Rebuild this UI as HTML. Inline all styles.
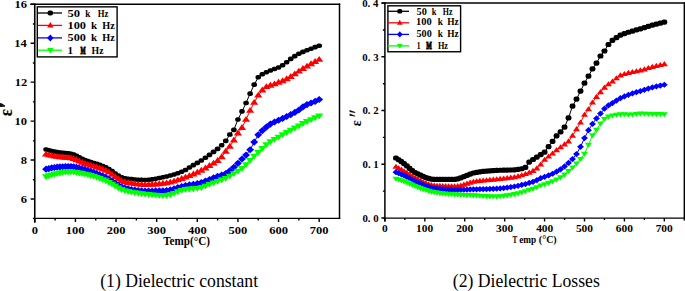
<!DOCTYPE html>
<html><head><meta charset="utf-8"><style>
html,body{margin:0;padding:0;background:#fff;width:685px;height:291px;overflow:hidden}
svg{display:block}
text{font-family:"Liberation Serif",serif;fill:#000}
</style></head><body>
<svg width="685" height="291" viewBox="0 0 685 291">
<g fill="#000" stroke="none"><polyline points="46.07,149.43 48.83,150.23 51.59,150.96 54.35,151.60 57.12,152.15 59.88,152.58 62.64,152.89 65.40,153.11 68.17,153.36 70.93,153.78 73.69,154.65 76.46,155.90 79.27,157.35 82.09,158.81 84.95,160.08 87.84,161.12 90.76,162.07 93.70,162.98 96.68,163.89 99.68,164.86 102.72,165.95 105.78,167.22 108.88,168.98 112.01,171.14 115.17,173.43 118.36,175.59 121.58,177.32 124.84,178.31 128.13,178.76 131.45,179.15 134.81,179.48 138.20,179.73 141.63,179.89 145.08,179.95 148.58,179.80 152.11,179.38 155.67,178.78 159.27,178.05 162.91,177.25 166.59,176.45 170.30,175.54 174.05,174.47 177.83,173.22 181.66,171.75 185.52,170.04 189.42,167.47 193.37,165.14 197.35,162.89 201.37,160.43 205.43,157.70 209.49,154.83 213.56,151.92 217.62,148.84 221.68,145.29 225.75,140.86 229.81,134.57 233.87,129.88 237.93,119.54 242.00,111.40 246.06,102.96 250.12,93.59 254.18,84.59 258.25,77.29 262.31,74.20 266.37,72.23 270.43,70.51 274.50,69.02 278.56,67.52 282.62,65.29 286.69,62.19 290.75,58.87 294.81,56.16 298.87,53.79 302.94,51.85 307.00,50.24 311.06,48.71 315.12,47.17 319.19,45.69" fill="none" stroke="#000" stroke-width="1"/>
<rect x="43.31" y="147.13" width="5.52" height="4.60" rx="2.07" ry="1.72"/>
<rect x="46.07" y="147.93" width="5.52" height="4.60" rx="2.07" ry="1.72"/>
<rect x="48.83" y="148.66" width="5.52" height="4.60" rx="2.07" ry="1.72"/>
<rect x="51.59" y="149.30" width="5.52" height="4.60" rx="2.07" ry="1.72"/>
<rect x="54.36" y="149.85" width="5.52" height="4.60" rx="2.07" ry="1.72"/>
<rect x="57.12" y="150.28" width="5.52" height="4.60" rx="2.07" ry="1.72"/>
<rect x="59.88" y="150.59" width="5.52" height="4.60" rx="2.07" ry="1.72"/>
<rect x="62.64" y="150.81" width="5.52" height="4.60" rx="2.07" ry="1.72"/>
<rect x="65.41" y="151.06" width="5.52" height="4.60" rx="2.07" ry="1.72"/>
<rect x="68.17" y="151.48" width="5.52" height="4.60" rx="2.07" ry="1.72"/>
<rect x="70.93" y="152.35" width="5.52" height="4.60" rx="2.07" ry="1.72"/>
<rect x="73.70" y="153.60" width="5.52" height="4.60" rx="2.07" ry="1.72"/>
<rect x="76.51" y="155.05" width="5.52" height="4.60" rx="2.07" ry="1.72"/>
<rect x="79.33" y="156.51" width="5.52" height="4.60" rx="2.07" ry="1.72"/>
<rect x="82.19" y="157.78" width="5.52" height="4.60" rx="2.07" ry="1.72"/>
<rect x="85.08" y="158.82" width="5.52" height="4.60" rx="2.07" ry="1.72"/>
<rect x="88.00" y="159.77" width="5.52" height="4.60" rx="2.07" ry="1.72"/>
<rect x="90.94" y="160.68" width="5.52" height="4.60" rx="2.07" ry="1.72"/>
<rect x="93.92" y="161.59" width="5.52" height="4.60" rx="2.07" ry="1.72"/>
<rect x="96.92" y="162.56" width="5.52" height="4.60" rx="2.07" ry="1.72"/>
<rect x="99.96" y="163.65" width="5.52" height="4.60" rx="2.07" ry="1.72"/>
<rect x="103.02" y="164.92" width="5.52" height="4.60" rx="2.07" ry="1.72"/>
<rect x="106.12" y="166.68" width="5.52" height="4.60" rx="2.07" ry="1.72"/>
<rect x="109.25" y="168.84" width="5.52" height="4.60" rx="2.07" ry="1.72"/>
<rect x="112.41" y="171.13" width="5.52" height="4.60" rx="2.07" ry="1.72"/>
<rect x="115.60" y="173.29" width="5.52" height="4.60" rx="2.07" ry="1.72"/>
<rect x="118.82" y="175.02" width="5.52" height="4.60" rx="2.07" ry="1.72"/>
<rect x="122.08" y="176.01" width="5.52" height="4.60" rx="2.07" ry="1.72"/>
<rect x="125.37" y="176.46" width="5.52" height="4.60" rx="2.07" ry="1.72"/>
<rect x="128.69" y="176.85" width="5.52" height="4.60" rx="2.07" ry="1.72"/>
<rect x="132.05" y="177.18" width="5.52" height="4.60" rx="2.07" ry="1.72"/>
<rect x="135.44" y="177.43" width="5.52" height="4.60" rx="2.07" ry="1.72"/>
<rect x="138.87" y="177.59" width="5.52" height="4.60" rx="2.07" ry="1.72"/>
<rect x="142.32" y="177.65" width="5.52" height="4.60" rx="2.07" ry="1.72"/>
<rect x="145.82" y="177.50" width="5.52" height="4.60" rx="2.07" ry="1.72"/>
<rect x="149.35" y="177.08" width="5.52" height="4.60" rx="2.07" ry="1.72"/>
<rect x="152.91" y="176.48" width="5.52" height="4.60" rx="2.07" ry="1.72"/>
<rect x="156.51" y="175.75" width="5.52" height="4.60" rx="2.07" ry="1.72"/>
<rect x="160.15" y="174.95" width="5.52" height="4.60" rx="2.07" ry="1.72"/>
<rect x="163.83" y="174.15" width="5.52" height="4.60" rx="2.07" ry="1.72"/>
<rect x="167.54" y="173.24" width="5.52" height="4.60" rx="2.07" ry="1.72"/>
<rect x="171.29" y="172.17" width="5.52" height="4.60" rx="2.07" ry="1.72"/>
<rect x="175.07" y="170.92" width="5.52" height="4.60" rx="2.07" ry="1.72"/>
<rect x="178.90" y="169.45" width="5.52" height="4.60" rx="2.07" ry="1.72"/>
<rect x="182.76" y="167.74" width="5.52" height="4.60" rx="2.07" ry="1.72"/>
<rect x="186.66" y="165.17" width="5.52" height="4.60" rx="2.07" ry="1.72"/>
<rect x="190.61" y="162.84" width="5.52" height="4.60" rx="2.07" ry="1.72"/>
<rect x="194.59" y="160.59" width="5.52" height="4.60" rx="2.07" ry="1.72"/>
<rect x="198.61" y="158.13" width="5.52" height="4.60" rx="2.07" ry="1.72"/>
<rect x="202.67" y="155.40" width="5.52" height="4.60" rx="2.07" ry="1.72"/>
<rect x="206.73" y="152.53" width="5.52" height="4.60" rx="2.07" ry="1.72"/>
<rect x="210.80" y="149.62" width="5.52" height="4.60" rx="2.07" ry="1.72"/>
<rect x="214.86" y="146.54" width="5.52" height="4.60" rx="2.07" ry="1.72"/>
<rect x="218.92" y="142.99" width="5.52" height="4.60" rx="2.07" ry="1.72"/>
<rect x="222.99" y="138.56" width="5.52" height="4.60" rx="2.07" ry="1.72"/>
<rect x="227.05" y="132.27" width="5.52" height="4.60" rx="2.07" ry="1.72"/>
<rect x="231.11" y="127.58" width="5.52" height="4.60" rx="2.07" ry="1.72"/>
<rect x="235.17" y="117.24" width="5.52" height="4.60" rx="2.07" ry="1.72"/>
<rect x="239.24" y="109.10" width="5.52" height="4.60" rx="2.07" ry="1.72"/>
<rect x="243.30" y="100.66" width="5.52" height="4.60" rx="2.07" ry="1.72"/>
<rect x="247.36" y="91.29" width="5.52" height="4.60" rx="2.07" ry="1.72"/>
<rect x="251.42" y="82.29" width="5.52" height="4.60" rx="2.07" ry="1.72"/>
<rect x="255.49" y="74.99" width="5.52" height="4.60" rx="2.07" ry="1.72"/>
<rect x="259.55" y="71.90" width="5.52" height="4.60" rx="2.07" ry="1.72"/>
<rect x="263.61" y="69.93" width="5.52" height="4.60" rx="2.07" ry="1.72"/>
<rect x="267.67" y="68.21" width="5.52" height="4.60" rx="2.07" ry="1.72"/>
<rect x="271.74" y="66.72" width="5.52" height="4.60" rx="2.07" ry="1.72"/>
<rect x="275.80" y="65.22" width="5.52" height="4.60" rx="2.07" ry="1.72"/>
<rect x="279.86" y="62.99" width="5.52" height="4.60" rx="2.07" ry="1.72"/>
<rect x="283.93" y="59.89" width="5.52" height="4.60" rx="2.07" ry="1.72"/>
<rect x="287.99" y="56.57" width="5.52" height="4.60" rx="2.07" ry="1.72"/>
<rect x="292.05" y="53.86" width="5.52" height="4.60" rx="2.07" ry="1.72"/>
<rect x="296.11" y="51.49" width="5.52" height="4.60" rx="2.07" ry="1.72"/>
<rect x="300.18" y="49.55" width="5.52" height="4.60" rx="2.07" ry="1.72"/>
<rect x="304.24" y="47.94" width="5.52" height="4.60" rx="2.07" ry="1.72"/>
<rect x="308.30" y="46.41" width="5.52" height="4.60" rx="2.07" ry="1.72"/>
<rect x="312.36" y="44.87" width="5.52" height="4.60" rx="2.07" ry="1.72"/>
<rect x="316.43" y="43.39" width="5.52" height="4.60" rx="2.07" ry="1.72"/>
</g>
<g fill="#f00" stroke="none"><polyline points="46.07,154.18 48.83,154.86 51.59,155.48 54.35,156.03 57.12,156.50 59.88,156.89 62.64,157.16 65.40,157.35 68.17,157.58 70.93,157.96 73.69,158.72 76.46,159.82 79.27,161.09 82.09,162.38 84.95,163.53 87.84,164.50 90.76,165.40 93.70,166.26 96.68,167.14 99.68,168.09 102.72,169.16 105.78,170.42 108.88,172.16 112.01,174.30 115.17,176.61 118.36,178.83 121.58,180.67 124.84,181.86 128.13,182.56 131.45,183.20 134.81,183.76 138.20,184.19 141.63,184.48 145.08,184.57 148.58,184.52 152.11,184.35 155.67,184.10 159.27,183.78 162.91,183.40 166.59,182.95 170.30,182.20 174.05,181.17 177.83,179.93 181.66,178.58 185.52,177.22 189.42,175.75 193.37,174.09 197.35,172.28 201.37,170.31 205.43,168.07 209.49,165.64 213.56,163.21 217.62,160.55 221.68,156.77 225.75,151.36 229.81,146.37 233.87,140.15 237.93,133.10 242.00,127.63 246.06,119.44 250.12,110.45 254.18,102.50 258.25,95.24 262.31,90.16 266.37,86.67 270.43,85.29 274.50,83.99 278.56,82.38 282.62,80.84 286.69,78.87 290.75,76.56 294.81,73.92 298.87,71.17 302.94,68.63 307.00,66.21 311.06,63.87 315.12,61.61 319.19,59.42" fill="none" stroke="#f00" stroke-width="1"/>
<path d="M46.07 150.65L50.16 156.54L41.97 156.54Z"/>
<path d="M48.83 151.33L52.92 157.22L44.74 157.22Z"/>
<path d="M51.59 151.95L55.68 157.84L47.50 157.84Z"/>
<path d="M54.35 152.50L58.45 158.39L50.26 158.39Z"/>
<path d="M57.12 152.97L61.21 158.86L53.02 158.86Z"/>
<path d="M59.88 153.35L63.97 159.24L55.79 159.24Z"/>
<path d="M62.64 153.62L66.73 159.51L58.55 159.51Z"/>
<path d="M65.40 153.82L69.50 159.71L61.31 159.71Z"/>
<path d="M68.17 154.05L72.26 159.94L64.07 159.94Z"/>
<path d="M70.93 154.42L75.02 160.31L66.84 160.31Z"/>
<path d="M73.69 155.19L77.78 161.08L69.60 161.08Z"/>
<path d="M76.46 156.28L80.56 162.17L72.37 162.17Z"/>
<path d="M79.27 157.55L83.36 163.44L75.17 163.44Z"/>
<path d="M82.09 158.85L86.19 164.74L78.00 164.74Z"/>
<path d="M84.95 160.00L89.04 165.89L80.86 165.89Z"/>
<path d="M87.84 160.97L91.93 166.86L83.75 166.86Z"/>
<path d="M90.76 161.86L94.85 167.75L86.66 167.75Z"/>
<path d="M93.70 162.73L97.79 168.62L89.61 168.62Z"/>
<path d="M96.68 163.61L100.77 169.50L92.58 169.50Z"/>
<path d="M99.68 164.56L103.77 170.45L95.59 170.45Z"/>
<path d="M102.72 165.63L106.81 171.52L98.62 171.52Z"/>
<path d="M105.78 166.88L109.87 172.77L101.69 172.77Z"/>
<path d="M108.88 168.62L112.97 174.51L104.79 174.51Z"/>
<path d="M112.01 170.77L116.10 176.66L107.92 176.66Z"/>
<path d="M115.17 173.08L119.26 178.97L111.08 178.97Z"/>
<path d="M118.36 175.29L122.45 181.18L114.27 181.18Z"/>
<path d="M121.58 177.14L125.68 183.03L117.49 183.03Z"/>
<path d="M124.84 178.33L128.93 184.22L120.75 184.22Z"/>
<path d="M128.13 179.03L132.22 184.92L124.04 184.92Z"/>
<path d="M131.45 179.67L135.55 185.56L127.36 185.56Z"/>
<path d="M134.81 180.22L138.90 186.11L130.72 186.11Z"/>
<path d="M138.20 180.66L142.29 186.55L134.11 186.55Z"/>
<path d="M141.63 180.94L145.72 186.83L137.53 186.83Z"/>
<path d="M145.08 181.04L149.18 186.93L140.99 186.93Z"/>
<path d="M148.58 180.98L152.67 186.87L144.49 186.87Z"/>
<path d="M152.11 180.82L156.20 186.71L148.02 186.71Z"/>
<path d="M155.67 180.57L159.76 186.46L151.58 186.46Z"/>
<path d="M159.27 180.24L163.37 186.13L155.18 186.13Z"/>
<path d="M162.91 179.87L167.00 185.76L158.82 185.76Z"/>
<path d="M166.59 179.42L170.68 185.31L162.49 185.31Z"/>
<path d="M170.30 178.67L174.39 184.56L166.20 184.56Z"/>
<path d="M174.05 177.63L178.14 183.52L169.95 183.52Z"/>
<path d="M177.83 176.40L181.92 182.29L173.74 182.29Z"/>
<path d="M181.66 175.05L185.75 180.94L177.57 180.94Z"/>
<path d="M185.52 173.68L189.61 179.57L181.43 179.57Z"/>
<path d="M189.42 172.21L193.52 178.10L185.33 178.10Z"/>
<path d="M193.37 170.56L197.46 176.45L189.27 176.45Z"/>
<path d="M197.35 168.74L201.44 174.63L193.26 174.63Z"/>
<path d="M201.37 166.77L205.46 172.66L197.28 172.66Z"/>
<path d="M205.43 164.54L209.52 170.43L201.34 170.43Z"/>
<path d="M209.49 162.11L213.59 168.00L205.40 168.00Z"/>
<path d="M213.56 159.68L217.65 165.57L209.47 165.57Z"/>
<path d="M217.62 157.01L221.71 162.90L213.53 162.90Z"/>
<path d="M221.68 153.24L225.77 159.13L217.59 159.13Z"/>
<path d="M225.75 147.82L229.84 153.71L221.65 153.71Z"/>
<path d="M229.81 142.83L233.90 148.72L225.72 148.72Z"/>
<path d="M233.87 136.62L237.96 142.51L229.78 142.51Z"/>
<path d="M237.93 129.57L242.03 135.46L233.84 135.46Z"/>
<path d="M242.00 124.10L246.09 129.99L237.90 129.99Z"/>
<path d="M246.06 115.91L250.15 121.80L241.97 121.80Z"/>
<path d="M250.12 106.91L254.21 112.80L246.03 112.80Z"/>
<path d="M254.18 98.96L258.28 104.85L250.09 104.85Z"/>
<path d="M258.25 91.71L262.34 97.60L254.15 97.60Z"/>
<path d="M262.31 86.62L266.40 92.51L258.22 92.51Z"/>
<path d="M266.37 83.14L270.46 89.03L262.28 89.03Z"/>
<path d="M270.43 81.76L274.53 87.65L266.34 87.65Z"/>
<path d="M274.50 80.45L278.59 86.34L270.41 86.34Z"/>
<path d="M278.56 78.84L282.65 84.73L274.47 84.73Z"/>
<path d="M282.62 77.30L286.71 83.19L278.53 83.19Z"/>
<path d="M286.69 75.34L290.78 81.23L282.59 81.23Z"/>
<path d="M290.75 73.02L294.84 78.91L286.66 78.91Z"/>
<path d="M294.81 70.39L298.90 76.28L290.72 76.28Z"/>
<path d="M298.87 67.64L302.97 73.53L294.78 73.53Z"/>
<path d="M302.94 65.09L307.03 70.98L298.84 70.98Z"/>
<path d="M307.00 62.68L311.09 68.57L302.91 68.57Z"/>
<path d="M311.06 60.34L315.15 66.23L306.97 66.23Z"/>
<path d="M315.12 58.07L319.22 63.96L311.03 63.96Z"/>
<path d="M319.19 55.89L323.28 61.78L315.09 61.78Z"/>
</g>
<g fill="#00f" stroke="none"><polyline points="46.07,169.22 48.83,168.54 51.59,167.94 54.35,167.49 57.12,167.20 59.88,166.97 62.64,166.76 65.40,166.61 68.17,166.52 70.93,166.52 73.69,166.80 76.46,167.35 79.27,168.07 82.09,168.88 84.95,169.69 87.84,170.51 90.76,171.43 93.70,172.45 96.68,173.57 99.68,174.77 102.72,176.04 105.78,177.39 108.88,179.09 112.01,181.08 115.17,183.18 118.36,185.18 121.58,186.88 124.84,188.03 128.13,188.78 131.45,189.48 134.81,190.10 138.20,190.59 141.63,190.91 145.08,191.02 148.58,191.01 152.11,190.98 155.67,190.93 159.27,190.86 162.91,190.78 166.59,190.61 170.30,189.97 174.05,188.92 177.83,187.69 181.66,186.48 185.52,185.53 189.42,184.85 193.37,184.26 197.35,183.58 201.37,182.62 205.43,181.11 209.49,179.48 213.56,177.81 217.62,176.23 221.68,175.01 225.75,173.56 229.81,170.87 233.87,167.29 237.93,163.34 242.00,159.01 246.06,155.12 250.12,149.75 254.18,142.05 258.25,134.82 262.31,130.58 266.37,127.09 270.43,124.06 274.50,122.00 278.56,120.24 282.62,118.38 286.69,116.52 290.75,114.53 294.81,112.39 298.87,110.02 302.94,106.97 307.00,104.53 311.06,103.00 315.12,101.45 319.19,99.51" fill="none" stroke="#00f" stroke-width="1"/>
<path d="M46.07 165.62L50.03 169.22L46.07 172.82L42.11 169.22Z"/>
<path d="M48.83 164.94L52.79 168.54L48.83 172.14L44.87 168.54Z"/>
<path d="M51.59 164.34L55.55 167.94L51.59 171.54L47.63 167.94Z"/>
<path d="M54.35 163.89L58.31 167.49L54.35 171.09L50.39 167.49Z"/>
<path d="M57.12 163.60L61.08 167.20L57.12 170.80L53.16 167.20Z"/>
<path d="M59.88 163.37L63.84 166.97L59.88 170.57L55.92 166.97Z"/>
<path d="M62.64 163.16L66.60 166.76L62.64 170.36L58.68 166.76Z"/>
<path d="M65.40 163.01L69.36 166.61L65.40 170.21L61.44 166.61Z"/>
<path d="M68.17 162.92L72.13 166.52L68.17 170.12L64.21 166.52Z"/>
<path d="M70.93 162.92L74.89 166.52L70.93 170.12L66.97 166.52Z"/>
<path d="M73.69 163.20L77.65 166.80L73.69 170.40L69.73 166.80Z"/>
<path d="M76.46 163.75L80.42 167.35L76.46 170.95L72.50 167.35Z"/>
<path d="M79.27 164.47L83.23 168.07L79.27 171.67L75.31 168.07Z"/>
<path d="M82.09 165.28L86.05 168.88L82.09 172.48L78.13 168.88Z"/>
<path d="M84.95 166.09L88.91 169.69L84.95 173.29L80.99 169.69Z"/>
<path d="M87.84 166.91L91.80 170.51L87.84 174.11L83.88 170.51Z"/>
<path d="M90.76 167.83L94.72 171.43L90.76 175.03L86.80 171.43Z"/>
<path d="M93.70 168.85L97.66 172.45L93.70 176.05L89.74 172.45Z"/>
<path d="M96.68 169.97L100.64 173.57L96.68 177.17L92.72 173.57Z"/>
<path d="M99.68 171.17L103.64 174.77L99.68 178.37L95.72 174.77Z"/>
<path d="M102.72 172.44L106.68 176.04L102.72 179.64L98.76 176.04Z"/>
<path d="M105.78 173.79L109.74 177.39L105.78 180.99L101.82 177.39Z"/>
<path d="M108.88 175.49L112.84 179.09L108.88 182.69L104.92 179.09Z"/>
<path d="M112.01 177.48L115.97 181.08L112.01 184.68L108.05 181.08Z"/>
<path d="M115.17 179.58L119.13 183.18L115.17 186.78L111.21 183.18Z"/>
<path d="M118.36 181.58L122.32 185.18L118.36 188.78L114.40 185.18Z"/>
<path d="M121.58 183.28L125.54 186.88L121.58 190.48L117.62 186.88Z"/>
<path d="M124.84 184.43L128.80 188.03L124.84 191.63L120.88 188.03Z"/>
<path d="M128.13 185.18L132.09 188.78L128.13 192.38L124.17 188.78Z"/>
<path d="M131.45 185.88L135.41 189.48L131.45 193.08L127.49 189.48Z"/>
<path d="M134.81 186.50L138.77 190.10L134.81 193.70L130.85 190.10Z"/>
<path d="M138.20 186.99L142.16 190.59L138.20 194.19L134.24 190.59Z"/>
<path d="M141.63 187.31L145.59 190.91L141.63 194.51L137.67 190.91Z"/>
<path d="M145.08 187.42L149.04 191.02L145.08 194.62L141.12 191.02Z"/>
<path d="M148.58 187.41L152.54 191.01L148.58 194.61L144.62 191.01Z"/>
<path d="M152.11 187.38L156.07 190.98L152.11 194.58L148.15 190.98Z"/>
<path d="M155.67 187.33L159.63 190.93L155.67 194.53L151.71 190.93Z"/>
<path d="M159.27 187.26L163.23 190.86L159.27 194.46L155.31 190.86Z"/>
<path d="M162.91 187.18L166.87 190.78L162.91 194.38L158.95 190.78Z"/>
<path d="M166.59 187.01L170.55 190.61L166.59 194.21L162.63 190.61Z"/>
<path d="M170.30 186.37L174.26 189.97L170.30 193.57L166.34 189.97Z"/>
<path d="M174.05 185.32L178.01 188.92L174.05 192.52L170.09 188.92Z"/>
<path d="M177.83 184.09L181.79 187.69L177.83 191.29L173.87 187.69Z"/>
<path d="M181.66 182.88L185.62 186.48L181.66 190.08L177.70 186.48Z"/>
<path d="M185.52 181.93L189.48 185.53L185.52 189.13L181.56 185.53Z"/>
<path d="M189.42 181.25L193.38 184.85L189.42 188.45L185.46 184.85Z"/>
<path d="M193.37 180.66L197.33 184.26L193.37 187.86L189.41 184.26Z"/>
<path d="M197.35 179.98L201.31 183.58L197.35 187.18L193.39 183.58Z"/>
<path d="M201.37 179.02L205.33 182.62L201.37 186.22L197.41 182.62Z"/>
<path d="M205.43 177.51L209.39 181.11L205.43 184.71L201.47 181.11Z"/>
<path d="M209.49 175.88L213.45 179.48L209.49 183.08L205.53 179.48Z"/>
<path d="M213.56 174.21L217.52 177.81L213.56 181.41L209.60 177.81Z"/>
<path d="M217.62 172.63L221.58 176.23L217.62 179.83L213.66 176.23Z"/>
<path d="M221.68 171.41L225.64 175.01L221.68 178.61L217.72 175.01Z"/>
<path d="M225.75 169.96L229.71 173.56L225.75 177.16L221.79 173.56Z"/>
<path d="M229.81 167.27L233.77 170.87L229.81 174.47L225.85 170.87Z"/>
<path d="M233.87 163.69L237.83 167.29L233.87 170.89L229.91 167.29Z"/>
<path d="M237.93 159.74L241.89 163.34L237.93 166.94L233.97 163.34Z"/>
<path d="M242.00 155.41L245.96 159.01L242.00 162.61L238.04 159.01Z"/>
<path d="M246.06 151.52L250.02 155.12L246.06 158.72L242.10 155.12Z"/>
<path d="M250.12 146.15L254.08 149.75L250.12 153.35L246.16 149.75Z"/>
<path d="M254.18 138.45L258.14 142.05L254.18 145.65L250.22 142.05Z"/>
<path d="M258.25 131.22L262.21 134.82L258.25 138.42L254.29 134.82Z"/>
<path d="M262.31 126.98L266.27 130.58L262.31 134.18L258.35 130.58Z"/>
<path d="M266.37 123.49L270.33 127.09L266.37 130.69L262.41 127.09Z"/>
<path d="M270.43 120.46L274.39 124.06L270.43 127.66L266.47 124.06Z"/>
<path d="M274.50 118.40L278.46 122.00L274.50 125.60L270.54 122.00Z"/>
<path d="M278.56 116.64L282.52 120.24L278.56 123.84L274.60 120.24Z"/>
<path d="M282.62 114.78L286.58 118.38L282.62 121.98L278.66 118.38Z"/>
<path d="M286.69 112.92L290.65 116.52L286.69 120.12L282.73 116.52Z"/>
<path d="M290.75 110.93L294.71 114.53L290.75 118.13L286.79 114.53Z"/>
<path d="M294.81 108.79L298.77 112.39L294.81 115.99L290.85 112.39Z"/>
<path d="M298.87 106.42L302.83 110.02L298.87 113.62L294.91 110.02Z"/>
<path d="M302.94 103.37L306.90 106.97L302.94 110.57L298.98 106.97Z"/>
<path d="M307.00 100.93L310.96 104.53L307.00 108.13L303.04 104.53Z"/>
<path d="M311.06 99.40L315.02 103.00L311.06 106.60L307.10 103.00Z"/>
<path d="M315.12 97.85L319.08 101.45L315.12 105.05L311.16 101.45Z"/>
<path d="M319.19 95.91L323.15 99.51L319.19 103.11L315.23 99.51Z"/>
</g>
<g fill="#0f0" stroke="none"><polyline points="46.07,176.61 48.83,175.64 51.59,174.77 54.35,174.05 57.12,173.49 59.88,172.96 62.64,172.47 65.40,172.09 68.17,171.85 70.93,171.81 73.69,172.00 76.46,172.38 79.27,172.88 82.09,173.45 84.95,174.04 87.84,174.68 90.76,175.45 93.70,176.33 96.68,177.31 99.68,178.38 102.72,179.52 105.78,180.72 108.88,182.23 112.01,184.03 115.17,185.94 118.36,187.79 121.58,189.39 124.84,190.56 128.13,191.36 131.45,192.07 134.81,192.68 138.20,193.22 141.63,193.67 145.08,194.06 148.58,194.42 152.11,194.77 155.67,195.09 159.27,195.33 162.91,195.48 166.59,195.41 170.30,194.60 174.05,193.23 177.83,191.65 181.66,190.23 185.52,189.36 189.42,188.94 193.37,188.64 197.35,188.27 201.37,187.59 205.43,186.01 209.49,184.34 213.56,182.82 217.62,181.31 221.68,179.87 225.75,178.26 229.81,176.07 233.87,173.55 237.93,171.08 242.00,168.36 246.06,164.51 250.12,160.30 254.18,156.03 258.25,152.47 262.31,148.43 266.37,144.59 270.43,141.67 274.50,139.27 278.56,137.02 282.62,134.68 286.69,132.35 290.75,130.09 294.81,127.96 298.87,125.82 302.94,123.46 307.00,121.34 311.06,119.51 315.12,117.65 319.19,115.93" fill="none" stroke="#0f0" stroke-width="1"/>
<path d="M46.07 180.14L50.16 174.25L41.97 174.25Z"/>
<path d="M48.83 179.17L52.92 173.28L44.74 173.28Z"/>
<path d="M51.59 178.31L55.68 172.42L47.50 172.42Z"/>
<path d="M54.35 177.58L58.45 171.69L50.26 171.69Z"/>
<path d="M57.12 177.02L61.21 171.13L53.02 171.13Z"/>
<path d="M59.88 176.49L63.97 170.60L55.79 170.60Z"/>
<path d="M62.64 176.01L66.73 170.12L58.55 170.12Z"/>
<path d="M65.40 175.62L69.50 169.73L61.31 169.73Z"/>
<path d="M68.17 175.38L72.26 169.49L64.07 169.49Z"/>
<path d="M70.93 175.35L75.02 169.46L66.84 169.46Z"/>
<path d="M73.69 175.54L77.78 169.65L69.60 169.65Z"/>
<path d="M76.46 175.91L80.56 170.02L72.37 170.02Z"/>
<path d="M79.27 176.41L83.36 170.52L75.17 170.52Z"/>
<path d="M82.09 176.99L86.19 171.10L78.00 171.10Z"/>
<path d="M84.95 177.57L89.04 171.68L80.86 171.68Z"/>
<path d="M87.84 178.22L91.93 172.33L83.75 172.33Z"/>
<path d="M90.76 178.98L94.85 173.09L86.66 173.09Z"/>
<path d="M93.70 179.86L97.79 173.97L89.61 173.97Z"/>
<path d="M96.68 180.84L100.77 174.95L92.58 174.95Z"/>
<path d="M99.68 181.91L103.77 176.02L95.59 176.02Z"/>
<path d="M102.72 183.05L106.81 177.16L98.62 177.16Z"/>
<path d="M105.78 184.25L109.87 178.36L101.69 178.36Z"/>
<path d="M108.88 185.77L112.97 179.88L104.79 179.88Z"/>
<path d="M112.01 187.56L116.10 181.67L107.92 181.67Z"/>
<path d="M115.17 189.47L119.26 183.58L111.08 183.58Z"/>
<path d="M118.36 191.32L122.45 185.43L114.27 185.43Z"/>
<path d="M121.58 192.93L125.68 187.04L117.49 187.04Z"/>
<path d="M124.84 194.09L128.93 188.20L120.75 188.20Z"/>
<path d="M128.13 194.89L132.22 189.00L124.04 189.00Z"/>
<path d="M131.45 195.60L135.55 189.71L127.36 189.71Z"/>
<path d="M134.81 196.22L138.90 190.33L130.72 190.33Z"/>
<path d="M138.20 196.75L142.29 190.86L134.11 190.86Z"/>
<path d="M141.63 197.21L145.72 191.32L137.53 191.32Z"/>
<path d="M145.08 197.59L149.18 191.70L140.99 191.70Z"/>
<path d="M148.58 197.95L152.67 192.06L144.49 192.06Z"/>
<path d="M152.11 198.30L156.20 192.41L148.02 192.41Z"/>
<path d="M155.67 198.62L159.76 192.73L151.58 192.73Z"/>
<path d="M159.27 198.86L163.37 192.97L155.18 192.97Z"/>
<path d="M162.91 199.01L167.00 193.12L158.82 193.12Z"/>
<path d="M166.59 198.94L170.68 193.05L162.49 193.05Z"/>
<path d="M170.30 198.14L174.39 192.25L166.20 192.25Z"/>
<path d="M174.05 196.77L178.14 190.88L169.95 190.88Z"/>
<path d="M177.83 195.19L181.92 189.30L173.74 189.30Z"/>
<path d="M181.66 193.77L185.75 187.88L177.57 187.88Z"/>
<path d="M185.52 192.89L189.61 187.00L181.43 187.00Z"/>
<path d="M189.42 192.47L193.52 186.58L185.33 186.58Z"/>
<path d="M193.37 192.17L197.46 186.28L189.27 186.28Z"/>
<path d="M197.35 191.81L201.44 185.92L193.26 185.92Z"/>
<path d="M201.37 191.12L205.46 185.23L197.28 185.23Z"/>
<path d="M205.43 189.55L209.52 183.66L201.34 183.66Z"/>
<path d="M209.49 187.87L213.59 181.98L205.40 181.98Z"/>
<path d="M213.56 186.36L217.65 180.47L209.47 180.47Z"/>
<path d="M217.62 184.84L221.71 178.95L213.53 178.95Z"/>
<path d="M221.68 183.41L225.77 177.52L217.59 177.52Z"/>
<path d="M225.75 181.79L229.84 175.90L221.65 175.90Z"/>
<path d="M229.81 179.61L233.90 173.72L225.72 173.72Z"/>
<path d="M233.87 177.08L237.96 171.19L229.78 171.19Z"/>
<path d="M237.93 174.62L242.03 168.73L233.84 168.73Z"/>
<path d="M242.00 171.89L246.09 166.00L237.90 166.00Z"/>
<path d="M246.06 168.05L250.15 162.16L241.97 162.16Z"/>
<path d="M250.12 163.83L254.21 157.94L246.03 157.94Z"/>
<path d="M254.18 159.56L258.28 153.67L250.09 153.67Z"/>
<path d="M258.25 156.00L262.34 150.11L254.15 150.11Z"/>
<path d="M262.31 151.97L266.40 146.08L258.22 146.08Z"/>
<path d="M266.37 148.12L270.46 142.23L262.28 142.23Z"/>
<path d="M270.43 145.21L274.53 139.32L266.34 139.32Z"/>
<path d="M274.50 142.81L278.59 136.92L270.41 136.92Z"/>
<path d="M278.56 140.56L282.65 134.67L274.47 134.67Z"/>
<path d="M282.62 138.21L286.71 132.32L278.53 132.32Z"/>
<path d="M286.69 135.88L290.78 129.99L282.59 129.99Z"/>
<path d="M290.75 133.63L294.84 127.74L286.66 127.74Z"/>
<path d="M294.81 131.49L298.90 125.60L290.72 125.60Z"/>
<path d="M298.87 129.35L302.97 123.46L294.78 123.46Z"/>
<path d="M302.94 127.00L307.03 121.11L298.84 121.11Z"/>
<path d="M307.00 124.88L311.09 118.99L302.91 118.99Z"/>
<path d="M311.06 123.04L315.15 117.15L306.97 117.15Z"/>
<path d="M315.12 121.18L319.22 115.29L311.03 115.29Z"/>
<path d="M319.19 119.46L323.28 113.57L315.09 113.57Z"/>
</g>
<g fill="#000" stroke="none"><polyline points="395.97,157.98 398.68,159.77 401.40,161.66 404.11,163.64 406.83,165.80 409.54,168.29 412.26,170.66 414.97,172.49 417.69,173.86 420.40,175.20 423.12,176.44 425.84,177.54 428.59,178.44 431.37,179.08 434.18,179.38 437.02,179.40 439.88,179.40 442.78,179.40 445.70,179.39 448.65,179.38 451.64,179.38 454.65,179.36 457.69,178.96 460.77,177.85 463.87,176.55 467.01,175.39 470.17,174.10 473.37,172.99 476.61,172.34 479.87,171.85 483.17,171.43 486.50,171.07 489.87,170.78 493.27,170.56 496.70,170.39 500.17,170.27 503.67,170.19 507.21,170.11 510.78,170.01 514.39,169.85 518.04,169.47 521.72,168.76 525.44,167.37 529.20,162.22 533.00,159.51 536.83,157.18 540.71,154.72 544.62,152.05 548.57,146.58 552.56,141.29 556.56,135.78 560.55,131.88 564.54,127.22 568.53,117.79 572.52,106.13 576.52,99.17 580.51,91.19 584.50,83.07 588.49,76.21 592.48,68.86 596.48,63.11 600.47,56.00 604.46,50.98 608.45,44.50 612.44,40.40 616.44,37.56 620.43,35.10 624.42,33.53 628.41,32.27 632.40,31.05 636.40,29.91 640.39,28.78 644.38,27.57 648.37,26.33 652.36,25.17 656.36,24.08 660.35,23.04 664.34,22.06" fill="none" stroke="#000" stroke-width="1"/>
<rect x="393.06" y="155.38" width="5.82" height="5.20" rx="2.18" ry="1.95"/>
<rect x="395.77" y="157.17" width="5.82" height="5.20" rx="2.18" ry="1.95"/>
<rect x="398.49" y="159.06" width="5.82" height="5.20" rx="2.18" ry="1.95"/>
<rect x="401.20" y="161.04" width="5.82" height="5.20" rx="2.18" ry="1.95"/>
<rect x="403.92" y="163.20" width="5.82" height="5.20" rx="2.18" ry="1.95"/>
<rect x="406.63" y="165.69" width="5.82" height="5.20" rx="2.18" ry="1.95"/>
<rect x="409.34" y="168.06" width="5.82" height="5.20" rx="2.18" ry="1.95"/>
<rect x="412.06" y="169.89" width="5.82" height="5.20" rx="2.18" ry="1.95"/>
<rect x="414.77" y="171.26" width="5.82" height="5.20" rx="2.18" ry="1.95"/>
<rect x="417.49" y="172.60" width="5.82" height="5.20" rx="2.18" ry="1.95"/>
<rect x="420.20" y="173.84" width="5.82" height="5.20" rx="2.18" ry="1.95"/>
<rect x="422.93" y="174.94" width="5.82" height="5.20" rx="2.18" ry="1.95"/>
<rect x="425.68" y="175.84" width="5.82" height="5.20" rx="2.18" ry="1.95"/>
<rect x="428.46" y="176.48" width="5.82" height="5.20" rx="2.18" ry="1.95"/>
<rect x="431.27" y="176.78" width="5.82" height="5.20" rx="2.18" ry="1.95"/>
<rect x="434.10" y="176.80" width="5.82" height="5.20" rx="2.18" ry="1.95"/>
<rect x="436.97" y="176.80" width="5.82" height="5.20" rx="2.18" ry="1.95"/>
<rect x="439.86" y="176.80" width="5.82" height="5.20" rx="2.18" ry="1.95"/>
<rect x="442.79" y="176.79" width="5.82" height="5.20" rx="2.18" ry="1.95"/>
<rect x="445.74" y="176.78" width="5.82" height="5.20" rx="2.18" ry="1.95"/>
<rect x="448.72" y="176.78" width="5.82" height="5.20" rx="2.18" ry="1.95"/>
<rect x="451.74" y="176.76" width="5.82" height="5.20" rx="2.18" ry="1.95"/>
<rect x="454.78" y="176.36" width="5.82" height="5.20" rx="2.18" ry="1.95"/>
<rect x="457.85" y="175.25" width="5.82" height="5.20" rx="2.18" ry="1.95"/>
<rect x="460.96" y="173.95" width="5.82" height="5.20" rx="2.18" ry="1.95"/>
<rect x="464.09" y="172.79" width="5.82" height="5.20" rx="2.18" ry="1.95"/>
<rect x="467.26" y="171.50" width="5.82" height="5.20" rx="2.18" ry="1.95"/>
<rect x="470.46" y="170.39" width="5.82" height="5.20" rx="2.18" ry="1.95"/>
<rect x="473.70" y="169.74" width="5.82" height="5.20" rx="2.18" ry="1.95"/>
<rect x="476.96" y="169.25" width="5.82" height="5.20" rx="2.18" ry="1.95"/>
<rect x="480.26" y="168.83" width="5.82" height="5.20" rx="2.18" ry="1.95"/>
<rect x="483.59" y="168.47" width="5.82" height="5.20" rx="2.18" ry="1.95"/>
<rect x="486.95" y="168.18" width="5.82" height="5.20" rx="2.18" ry="1.95"/>
<rect x="490.35" y="167.96" width="5.82" height="5.20" rx="2.18" ry="1.95"/>
<rect x="493.79" y="167.79" width="5.82" height="5.20" rx="2.18" ry="1.95"/>
<rect x="497.26" y="167.67" width="5.82" height="5.20" rx="2.18" ry="1.95"/>
<rect x="500.76" y="167.59" width="5.82" height="5.20" rx="2.18" ry="1.95"/>
<rect x="504.30" y="167.51" width="5.82" height="5.20" rx="2.18" ry="1.95"/>
<rect x="507.87" y="167.41" width="5.82" height="5.20" rx="2.18" ry="1.95"/>
<rect x="511.48" y="167.25" width="5.82" height="5.20" rx="2.18" ry="1.95"/>
<rect x="515.13" y="166.87" width="5.82" height="5.20" rx="2.18" ry="1.95"/>
<rect x="518.81" y="166.16" width="5.82" height="5.20" rx="2.18" ry="1.95"/>
<rect x="522.53" y="164.77" width="5.82" height="5.20" rx="2.18" ry="1.95"/>
<rect x="526.29" y="159.62" width="5.82" height="5.20" rx="2.18" ry="1.95"/>
<rect x="530.09" y="156.91" width="5.82" height="5.20" rx="2.18" ry="1.95"/>
<rect x="533.92" y="154.58" width="5.82" height="5.20" rx="2.18" ry="1.95"/>
<rect x="537.80" y="152.12" width="5.82" height="5.20" rx="2.18" ry="1.95"/>
<rect x="541.71" y="149.45" width="5.82" height="5.20" rx="2.18" ry="1.95"/>
<rect x="545.66" y="143.98" width="5.82" height="5.20" rx="2.18" ry="1.95"/>
<rect x="549.65" y="138.69" width="5.82" height="5.20" rx="2.18" ry="1.95"/>
<rect x="553.64" y="133.18" width="5.82" height="5.20" rx="2.18" ry="1.95"/>
<rect x="557.64" y="129.28" width="5.82" height="5.20" rx="2.18" ry="1.95"/>
<rect x="561.63" y="124.62" width="5.82" height="5.20" rx="2.18" ry="1.95"/>
<rect x="565.62" y="115.19" width="5.82" height="5.20" rx="2.18" ry="1.95"/>
<rect x="569.61" y="103.53" width="5.82" height="5.20" rx="2.18" ry="1.95"/>
<rect x="573.60" y="96.57" width="5.82" height="5.20" rx="2.18" ry="1.95"/>
<rect x="577.60" y="88.59" width="5.82" height="5.20" rx="2.18" ry="1.95"/>
<rect x="581.59" y="80.47" width="5.82" height="5.20" rx="2.18" ry="1.95"/>
<rect x="585.58" y="73.61" width="5.82" height="5.20" rx="2.18" ry="1.95"/>
<rect x="589.57" y="66.26" width="5.82" height="5.20" rx="2.18" ry="1.95"/>
<rect x="593.56" y="60.51" width="5.82" height="5.20" rx="2.18" ry="1.95"/>
<rect x="597.56" y="53.40" width="5.82" height="5.20" rx="2.18" ry="1.95"/>
<rect x="601.55" y="48.38" width="5.82" height="5.20" rx="2.18" ry="1.95"/>
<rect x="605.54" y="41.90" width="5.82" height="5.20" rx="2.18" ry="1.95"/>
<rect x="609.53" y="37.80" width="5.82" height="5.20" rx="2.18" ry="1.95"/>
<rect x="613.52" y="34.96" width="5.82" height="5.20" rx="2.18" ry="1.95"/>
<rect x="617.52" y="32.50" width="5.82" height="5.20" rx="2.18" ry="1.95"/>
<rect x="621.51" y="30.93" width="5.82" height="5.20" rx="2.18" ry="1.95"/>
<rect x="625.50" y="29.67" width="5.82" height="5.20" rx="2.18" ry="1.95"/>
<rect x="629.49" y="28.45" width="5.82" height="5.20" rx="2.18" ry="1.95"/>
<rect x="633.48" y="27.31" width="5.82" height="5.20" rx="2.18" ry="1.95"/>
<rect x="637.48" y="26.18" width="5.82" height="5.20" rx="2.18" ry="1.95"/>
<rect x="641.47" y="24.97" width="5.82" height="5.20" rx="2.18" ry="1.95"/>
<rect x="645.46" y="23.73" width="5.82" height="5.20" rx="2.18" ry="1.95"/>
<rect x="649.45" y="22.57" width="5.82" height="5.20" rx="2.18" ry="1.95"/>
<rect x="653.44" y="21.48" width="5.82" height="5.20" rx="2.18" ry="1.95"/>
<rect x="657.44" y="20.44" width="5.82" height="5.20" rx="2.18" ry="1.95"/>
<rect x="661.43" y="19.46" width="5.82" height="5.20" rx="2.18" ry="1.95"/>
</g>
<g fill="#f00" stroke="none"><polyline points="395.97,166.78 398.68,168.21 401.40,169.70 404.11,171.24 406.83,172.87 409.54,174.67 412.26,176.42 414.97,177.94 417.69,179.28 420.40,180.65 423.12,181.97 425.84,183.18 428.59,184.22 431.37,185.03 434.18,185.53 437.02,185.73 439.88,185.90 442.78,186.05 445.70,186.17 448.65,186.26 451.64,186.32 454.65,186.34 457.69,186.15 460.77,185.53 463.87,184.64 467.01,183.60 470.17,182.59 473.37,181.76 476.61,181.25 479.87,180.85 483.17,180.52 486.50,180.21 489.87,179.91 493.27,179.58 496.70,179.21 500.17,178.86 503.67,178.51 507.21,178.12 510.78,177.67 514.39,177.12 518.04,176.35 521.72,175.27 525.44,174.01 529.20,172.64 533.00,170.92 536.83,168.42 540.71,164.56 544.62,159.74 548.57,156.51 552.56,153.54 556.56,150.15 560.55,147.21 564.54,144.42 568.53,141.36 572.52,135.69 576.52,129.17 580.51,122.57 584.50,114.74 588.49,109.22 592.48,102.47 596.48,96.93 600.47,92.08 604.46,87.69 608.45,84.32 612.44,81.46 616.44,78.22 620.43,75.44 624.42,73.99 628.41,72.93 632.40,72.00 636.40,71.24 640.39,70.44 644.38,69.34 648.37,68.04 652.36,66.89 656.36,65.89 660.35,64.97 664.34,64.15" fill="none" stroke="#f00" stroke-width="1"/>
<path d="M395.97 163.71L399.53 168.84L392.41 168.84Z"/>
<path d="M398.68 165.14L402.25 170.27L395.12 170.27Z"/>
<path d="M401.40 166.62L404.96 171.75L397.83 171.75Z"/>
<path d="M404.11 168.16L407.68 173.29L400.55 173.29Z"/>
<path d="M406.83 169.80L410.39 174.93L403.26 174.93Z"/>
<path d="M409.54 171.59L413.11 176.72L405.98 176.72Z"/>
<path d="M412.26 173.34L415.82 178.47L408.69 178.47Z"/>
<path d="M414.97 174.86L418.54 179.99L411.41 179.99Z"/>
<path d="M417.69 176.21L421.25 181.34L414.12 181.34Z"/>
<path d="M420.40 177.57L423.96 182.70L416.84 182.70Z"/>
<path d="M423.12 178.89L426.68 184.02L419.55 184.02Z"/>
<path d="M425.84 180.10L429.40 185.23L422.28 185.23Z"/>
<path d="M428.59 181.15L432.16 186.28L425.03 186.28Z"/>
<path d="M431.37 181.96L434.94 187.09L427.81 187.09Z"/>
<path d="M434.18 182.45L437.74 187.58L430.62 187.58Z"/>
<path d="M437.02 182.65L440.58 187.78L433.45 187.78Z"/>
<path d="M439.88 182.82L443.45 187.95L436.32 187.95Z"/>
<path d="M442.78 182.97L446.34 188.10L439.21 188.10Z"/>
<path d="M445.70 183.09L449.26 188.22L442.14 188.22Z"/>
<path d="M448.65 183.18L452.22 188.31L445.09 188.31Z"/>
<path d="M451.64 183.24L455.20 188.37L448.07 188.37Z"/>
<path d="M454.65 183.27L458.21 188.40L451.08 188.40Z"/>
<path d="M457.69 183.07L461.26 188.20L454.13 188.20Z"/>
<path d="M460.77 182.46L464.33 187.59L457.20 187.59Z"/>
<path d="M463.87 181.56L467.43 186.69L460.31 186.69Z"/>
<path d="M467.01 180.52L470.57 185.65L463.44 185.65Z"/>
<path d="M470.17 179.51L473.74 184.64L466.61 184.64Z"/>
<path d="M473.37 178.68L476.94 183.81L469.81 183.81Z"/>
<path d="M476.61 178.17L480.17 183.30L473.04 183.30Z"/>
<path d="M479.87 177.77L483.44 182.90L476.31 182.90Z"/>
<path d="M483.17 177.44L486.73 182.57L479.61 182.57Z"/>
<path d="M486.50 177.13L490.07 182.26L482.94 182.26Z"/>
<path d="M489.87 176.83L493.43 181.96L486.30 181.96Z"/>
<path d="M493.27 176.50L496.83 181.63L489.70 181.63Z"/>
<path d="M496.70 176.13L500.26 181.26L493.14 181.26Z"/>
<path d="M500.17 175.78L503.73 180.91L496.60 180.91Z"/>
<path d="M503.67 175.43L507.23 180.56L500.11 180.56Z"/>
<path d="M507.21 175.05L510.77 180.18L503.64 180.18Z"/>
<path d="M510.78 174.60L514.35 179.73L507.22 179.73Z"/>
<path d="M514.39 174.05L517.96 179.18L510.83 179.18Z"/>
<path d="M518.04 173.27L521.60 178.40L514.48 178.40Z"/>
<path d="M521.72 172.19L525.29 177.32L518.16 177.32Z"/>
<path d="M525.44 170.94L529.01 176.07L521.88 176.07Z"/>
<path d="M529.20 169.56L532.77 174.69L525.64 174.69Z"/>
<path d="M533.00 167.85L536.56 172.98L529.44 172.98Z"/>
<path d="M536.83 165.35L540.40 170.48L533.27 170.48Z"/>
<path d="M540.71 161.48L544.27 166.61L537.14 166.61Z"/>
<path d="M544.62 156.67L548.18 161.80L541.06 161.80Z"/>
<path d="M548.57 153.43L552.14 158.56L545.01 158.56Z"/>
<path d="M552.56 150.46L556.13 155.59L549.00 155.59Z"/>
<path d="M556.56 147.07L560.12 152.20L552.99 152.20Z"/>
<path d="M560.55 144.13L564.11 149.26L556.98 149.26Z"/>
<path d="M564.54 141.34L568.10 146.47L560.98 146.47Z"/>
<path d="M568.53 138.28L572.10 143.41L564.97 143.41Z"/>
<path d="M572.52 132.61L576.09 137.74L568.96 137.74Z"/>
<path d="M576.52 126.10L580.08 131.23L572.95 131.23Z"/>
<path d="M580.51 119.49L584.07 124.62L576.94 124.62Z"/>
<path d="M584.50 111.66L588.06 116.79L580.94 116.79Z"/>
<path d="M588.49 106.14L592.06 111.27L584.93 111.27Z"/>
<path d="M592.48 99.39L596.05 104.52L588.92 104.52Z"/>
<path d="M596.48 93.85L600.04 98.98L592.91 98.98Z"/>
<path d="M600.47 89.00L604.03 94.13L596.90 94.13Z"/>
<path d="M604.46 84.61L608.02 89.74L600.90 89.74Z"/>
<path d="M608.45 81.24L612.02 86.37L604.89 86.37Z"/>
<path d="M612.44 78.38L616.01 83.51L608.88 83.51Z"/>
<path d="M616.44 75.15L620.00 80.28L612.87 80.28Z"/>
<path d="M620.43 72.37L623.99 77.50L616.86 77.50Z"/>
<path d="M624.42 70.91L627.98 76.04L620.86 76.04Z"/>
<path d="M628.41 69.85L631.98 74.98L624.85 74.98Z"/>
<path d="M632.40 68.92L635.97 74.05L628.84 74.05Z"/>
<path d="M636.40 68.16L639.96 73.29L632.83 73.29Z"/>
<path d="M640.39 67.37L643.95 72.50L636.82 72.50Z"/>
<path d="M644.38 66.26L647.94 71.39L640.82 71.39Z"/>
<path d="M648.37 64.96L651.94 70.09L644.81 70.09Z"/>
<path d="M652.36 63.82L655.93 68.95L648.80 68.95Z"/>
<path d="M656.36 62.81L659.92 67.94L652.79 67.94Z"/>
<path d="M660.35 61.89L663.91 67.02L656.78 67.02Z"/>
<path d="M664.34 61.07L667.90 66.20L660.78 66.20Z"/>
</g>
<g fill="#00f" stroke="none"><polyline points="395.97,172.23 398.68,173.22 401.40,174.30 404.11,175.47 406.83,176.76 409.54,178.24 412.26,179.75 414.97,181.08 417.69,182.28 420.40,183.49 423.12,184.66 425.84,185.76 428.59,186.74 431.37,187.55 434.18,188.13 437.02,188.50 439.88,188.83 442.78,189.14 445.70,189.40 448.65,189.61 451.64,189.74 454.65,189.80 457.69,189.78 460.77,189.73 463.87,189.65 467.01,189.55 470.17,189.44 473.37,189.34 476.61,189.26 479.87,189.19 483.17,189.13 486.50,189.06 489.87,188.97 493.27,188.87 496.70,188.71 500.17,188.45 503.67,188.07 507.21,187.60 510.78,187.07 514.39,186.50 518.04,185.83 521.72,184.97 525.44,184.01 529.20,182.99 533.00,181.81 536.83,180.21 540.71,178.22 544.62,176.80 548.57,175.45 552.56,173.75 556.56,171.70 560.55,169.30 564.54,166.42 568.53,162.98 572.52,159.02 576.52,154.11 580.51,146.78 584.50,138.10 588.49,130.17 592.48,123.98 596.48,118.43 600.47,113.59 604.46,108.63 608.45,105.40 612.44,103.12 616.44,100.53 620.43,98.23 624.42,96.39 628.41,94.79 632.40,93.40 636.40,92.22 640.39,91.08 644.38,89.85 648.37,88.60 652.36,87.49 656.36,86.49 660.35,85.57 664.34,84.75" fill="none" stroke="#00f" stroke-width="1"/>
<path d="M395.97 169.11L399.40 172.23L395.97 175.35L392.54 172.23Z"/>
<path d="M398.68 170.10L402.12 173.22L398.68 176.34L395.25 173.22Z"/>
<path d="M401.40 171.18L404.83 174.30L401.40 177.42L397.97 174.30Z"/>
<path d="M404.11 172.35L407.55 175.47L404.11 178.59L400.68 175.47Z"/>
<path d="M406.83 173.64L410.26 176.76L406.83 179.88L403.40 176.76Z"/>
<path d="M409.54 175.12L412.97 178.24L409.54 181.36L406.11 178.24Z"/>
<path d="M412.26 176.63L415.69 179.75L412.26 182.87L408.82 179.75Z"/>
<path d="M414.97 177.96L418.40 181.08L414.97 184.20L411.54 181.08Z"/>
<path d="M417.69 179.16L421.12 182.28L417.69 185.40L414.25 182.28Z"/>
<path d="M420.40 180.37L423.83 183.49L420.40 186.61L416.97 183.49Z"/>
<path d="M423.12 181.54L426.55 184.66L423.12 187.78L419.68 184.66Z"/>
<path d="M425.84 182.64L429.27 185.76L425.84 188.88L422.41 185.76Z"/>
<path d="M428.59 183.62L432.02 186.74L428.59 189.86L425.16 186.74Z"/>
<path d="M431.37 184.43L434.80 187.55L431.37 190.67L427.94 187.55Z"/>
<path d="M434.18 185.01L437.61 188.13L434.18 191.25L430.75 188.13Z"/>
<path d="M437.02 185.38L440.45 188.50L437.02 191.62L433.58 188.50Z"/>
<path d="M439.88 185.71L443.31 188.83L439.88 191.95L436.45 188.83Z"/>
<path d="M442.78 186.02L446.21 189.14L442.78 192.26L439.34 189.14Z"/>
<path d="M445.70 186.28L449.13 189.40L445.70 192.52L442.27 189.40Z"/>
<path d="M448.65 186.49L452.08 189.61L448.65 192.73L445.22 189.61Z"/>
<path d="M451.64 186.62L455.07 189.74L451.64 192.86L448.20 189.74Z"/>
<path d="M454.65 186.68L458.08 189.80L454.65 192.92L451.22 189.80Z"/>
<path d="M457.69 186.66L461.12 189.78L457.69 192.90L454.26 189.78Z"/>
<path d="M460.77 186.61L464.20 189.73L460.77 192.85L457.33 189.73Z"/>
<path d="M463.87 186.53L467.30 189.65L463.87 192.77L460.44 189.65Z"/>
<path d="M467.01 186.43L470.44 189.55L467.01 192.67L463.57 189.55Z"/>
<path d="M470.17 186.32L473.61 189.44L470.17 192.56L466.74 189.44Z"/>
<path d="M473.37 186.22L476.81 189.34L473.37 192.46L469.94 189.34Z"/>
<path d="M476.61 186.14L480.04 189.26L476.61 192.38L473.18 189.26Z"/>
<path d="M479.87 186.07L483.30 189.19L479.87 192.31L476.44 189.19Z"/>
<path d="M483.17 186.01L486.60 189.13L483.17 192.25L479.74 189.13Z"/>
<path d="M486.50 185.94L489.93 189.06L486.50 192.18L483.07 189.06Z"/>
<path d="M489.87 185.85L493.30 188.97L489.87 192.09L486.43 188.97Z"/>
<path d="M493.27 185.75L496.70 188.87L493.27 191.99L489.83 188.87Z"/>
<path d="M496.70 185.59L500.13 188.71L496.70 191.83L493.27 188.71Z"/>
<path d="M500.17 185.33L503.60 188.45L500.17 191.57L496.74 188.45Z"/>
<path d="M503.67 184.95L507.10 188.07L503.67 191.19L500.24 188.07Z"/>
<path d="M507.21 184.48L510.64 187.60L507.21 190.72L503.78 187.60Z"/>
<path d="M510.78 183.95L514.22 187.07L510.78 190.19L507.35 187.07Z"/>
<path d="M514.39 183.38L517.83 186.50L514.39 189.62L510.96 186.50Z"/>
<path d="M518.04 182.71L521.47 185.83L518.04 188.95L514.61 185.83Z"/>
<path d="M521.72 181.85L525.16 184.97L521.72 188.09L518.29 184.97Z"/>
<path d="M525.44 180.89L528.88 184.01L525.44 187.13L522.01 184.01Z"/>
<path d="M529.20 179.87L532.63 182.99L529.20 186.11L525.77 182.99Z"/>
<path d="M533.00 178.69L536.43 181.81L533.00 184.93L529.57 181.81Z"/>
<path d="M536.83 177.09L540.27 180.21L536.83 183.33L533.40 180.21Z"/>
<path d="M540.71 175.10L544.14 178.22L540.71 181.34L537.28 178.22Z"/>
<path d="M544.62 173.68L548.05 176.80L544.62 179.92L541.19 176.80Z"/>
<path d="M548.57 172.33L552.00 175.45L548.57 178.57L545.14 175.45Z"/>
<path d="M552.56 170.63L556.00 173.75L552.56 176.87L549.13 173.75Z"/>
<path d="M556.56 168.58L559.99 171.70L556.56 174.82L553.12 171.70Z"/>
<path d="M560.55 166.18L563.98 169.30L560.55 172.42L557.12 169.30Z"/>
<path d="M564.54 163.30L567.97 166.42L564.54 169.54L561.11 166.42Z"/>
<path d="M568.53 159.86L571.96 162.98L568.53 166.10L565.10 162.98Z"/>
<path d="M572.52 155.90L575.96 159.02L572.52 162.14L569.09 159.02Z"/>
<path d="M576.52 150.99L579.95 154.11L576.52 157.23L573.08 154.11Z"/>
<path d="M580.51 143.66L583.94 146.78L580.51 149.90L577.08 146.78Z"/>
<path d="M584.50 134.98L587.93 138.10L584.50 141.22L581.07 138.10Z"/>
<path d="M588.49 127.05L591.92 130.17L588.49 133.29L585.06 130.17Z"/>
<path d="M592.48 120.86L595.92 123.98L592.48 127.10L589.05 123.98Z"/>
<path d="M596.48 115.31L599.91 118.43L596.48 121.55L593.04 118.43Z"/>
<path d="M600.47 110.47L603.90 113.59L600.47 116.71L597.04 113.59Z"/>
<path d="M604.46 105.51L607.89 108.63L604.46 111.75L601.03 108.63Z"/>
<path d="M608.45 102.28L611.88 105.40L608.45 108.52L605.02 105.40Z"/>
<path d="M612.44 100.00L615.88 103.12L612.44 106.24L609.01 103.12Z"/>
<path d="M616.44 97.41L619.87 100.53L616.44 103.65L613.00 100.53Z"/>
<path d="M620.43 95.11L623.86 98.23L620.43 101.35L617.00 98.23Z"/>
<path d="M624.42 93.27L627.85 96.39L624.42 99.51L620.99 96.39Z"/>
<path d="M628.41 91.67L631.84 94.79L628.41 97.91L624.98 94.79Z"/>
<path d="M632.40 90.28L635.84 93.40L632.40 96.52L628.97 93.40Z"/>
<path d="M636.40 89.10L639.83 92.22L636.40 95.34L632.96 92.22Z"/>
<path d="M640.39 87.96L643.82 91.08L640.39 94.20L636.96 91.08Z"/>
<path d="M644.38 86.73L647.81 89.85L644.38 92.97L640.95 89.85Z"/>
<path d="M648.37 85.48L651.80 88.60L648.37 91.72L644.94 88.60Z"/>
<path d="M652.36 84.37L655.80 87.49L652.36 90.61L648.93 87.49Z"/>
<path d="M656.36 83.37L659.79 86.49L656.36 89.61L652.92 86.49Z"/>
<path d="M660.35 82.45L663.78 85.57L660.35 88.69L656.92 85.57Z"/>
<path d="M664.34 81.63L667.77 84.75L664.34 87.87L660.91 84.75Z"/>
</g>
<g fill="#0f0" stroke="none"><polyline points="395.97,178.70 398.68,179.50 401.40,180.38 404.11,181.34 406.83,182.41 409.54,183.64 412.26,184.89 414.97,186.02 417.69,187.05 420.40,188.07 423.12,189.07 425.84,190.02 428.59,190.88 431.37,191.63 434.18,192.23 437.02,192.68 439.88,193.07 442.78,193.43 445.70,193.75 448.65,194.02 451.64,194.27 454.65,194.48 457.69,194.66 460.77,194.81 463.87,194.94 467.01,195.06 470.17,195.19 473.37,195.32 476.61,195.49 479.87,195.70 483.17,195.94 486.50,196.18 489.87,196.37 493.27,196.48 496.70,196.47 500.17,196.26 503.67,195.88 507.21,195.36 510.78,194.75 514.39,194.11 518.04,193.34 521.72,192.31 525.44,191.19 529.20,190.02 533.00,188.72 536.83,187.21 540.71,185.54 544.62,184.20 548.57,182.90 552.56,181.33 556.56,179.53 560.55,177.37 564.54,174.58 568.53,171.15 572.52,167.48 576.52,163.51 580.51,159.00 584.50,153.80 588.49,144.78 592.48,135.38 596.48,129.83 600.47,123.62 604.46,119.00 608.45,116.65 612.44,115.46 616.44,114.77 620.43,114.32 624.42,114.23 628.41,114.52 632.40,114.52 636.40,114.01 640.39,113.61 644.38,113.69 648.37,113.89 652.36,114.03 656.36,114.11 660.35,114.17 664.34,114.20" fill="none" stroke="#0f0" stroke-width="1"/>
<path d="M395.97 181.78L399.53 176.65L392.41 176.65Z"/>
<path d="M398.68 182.57L402.25 177.44L395.12 177.44Z"/>
<path d="M401.40 183.46L404.96 178.33L397.83 178.33Z"/>
<path d="M404.11 184.42L407.68 179.29L400.55 179.29Z"/>
<path d="M406.83 185.48L410.39 180.35L403.26 180.35Z"/>
<path d="M409.54 186.71L413.11 181.58L405.98 181.58Z"/>
<path d="M412.26 187.97L415.82 182.84L408.69 182.84Z"/>
<path d="M414.97 189.10L418.54 183.97L411.41 183.97Z"/>
<path d="M417.69 190.13L421.25 185.00L414.12 185.00Z"/>
<path d="M420.40 191.15L423.96 186.02L416.84 186.02Z"/>
<path d="M423.12 192.15L426.68 187.02L419.55 187.02Z"/>
<path d="M425.84 193.10L429.40 187.97L422.28 187.97Z"/>
<path d="M428.59 193.96L432.16 188.83L425.03 188.83Z"/>
<path d="M431.37 194.71L434.94 189.58L427.81 189.58Z"/>
<path d="M434.18 195.31L437.74 190.18L430.62 190.18Z"/>
<path d="M437.02 195.75L440.58 190.62L433.45 190.62Z"/>
<path d="M439.88 196.15L443.45 191.02L436.32 191.02Z"/>
<path d="M442.78 196.51L446.34 191.38L439.21 191.38Z"/>
<path d="M445.70 196.82L449.26 191.69L442.14 191.69Z"/>
<path d="M448.65 197.10L452.22 191.97L445.09 191.97Z"/>
<path d="M451.64 197.34L455.20 192.21L448.07 192.21Z"/>
<path d="M454.65 197.56L458.21 192.43L451.08 192.43Z"/>
<path d="M457.69 197.73L461.26 192.60L454.13 192.60Z"/>
<path d="M460.77 197.89L464.33 192.76L457.20 192.76Z"/>
<path d="M463.87 198.02L467.43 192.89L460.31 192.89Z"/>
<path d="M467.01 198.14L470.57 193.01L463.44 193.01Z"/>
<path d="M470.17 198.26L473.74 193.13L466.61 193.13Z"/>
<path d="M473.37 198.40L476.94 193.27L469.81 193.27Z"/>
<path d="M476.61 198.57L480.17 193.44L473.04 193.44Z"/>
<path d="M479.87 198.78L483.44 193.65L476.31 193.65Z"/>
<path d="M483.17 199.02L486.73 193.89L479.61 193.89Z"/>
<path d="M486.50 199.25L490.07 194.12L482.94 194.12Z"/>
<path d="M489.87 199.45L493.43 194.32L486.30 194.32Z"/>
<path d="M493.27 199.56L496.83 194.43L489.70 194.43Z"/>
<path d="M496.70 199.55L500.26 194.42L493.14 194.42Z"/>
<path d="M500.17 199.34L503.73 194.21L496.60 194.21Z"/>
<path d="M503.67 198.95L507.23 193.82L500.11 193.82Z"/>
<path d="M507.21 198.44L510.77 193.31L503.64 193.31Z"/>
<path d="M510.78 197.83L514.35 192.70L507.22 192.70Z"/>
<path d="M514.39 197.19L517.96 192.06L510.83 192.06Z"/>
<path d="M518.04 196.42L521.60 191.29L514.48 191.29Z"/>
<path d="M521.72 195.39L525.29 190.26L518.16 190.26Z"/>
<path d="M525.44 194.27L529.01 189.14L521.88 189.14Z"/>
<path d="M529.20 193.10L532.77 187.97L525.64 187.97Z"/>
<path d="M533.00 191.79L536.56 186.66L529.44 186.66Z"/>
<path d="M536.83 190.28L540.40 185.15L533.27 185.15Z"/>
<path d="M540.71 188.62L544.27 183.49L537.14 183.49Z"/>
<path d="M544.62 187.28L548.18 182.15L541.06 182.15Z"/>
<path d="M548.57 185.98L552.14 180.85L545.01 180.85Z"/>
<path d="M552.56 184.41L556.13 179.28L549.00 179.28Z"/>
<path d="M556.56 182.60L560.12 177.47L552.99 177.47Z"/>
<path d="M560.55 180.45L564.11 175.32L556.98 175.32Z"/>
<path d="M564.54 177.66L568.10 172.53L560.98 172.53Z"/>
<path d="M568.53 174.23L572.10 169.10L564.97 169.10Z"/>
<path d="M572.52 170.56L576.09 165.43L568.96 165.43Z"/>
<path d="M576.52 166.59L580.08 161.46L572.95 161.46Z"/>
<path d="M580.51 162.07L584.07 156.94L576.94 156.94Z"/>
<path d="M584.50 156.88L588.06 151.75L580.94 151.75Z"/>
<path d="M588.49 147.86L592.06 142.73L584.93 142.73Z"/>
<path d="M592.48 138.46L596.05 133.33L588.92 133.33Z"/>
<path d="M596.48 132.91L600.04 127.78L592.91 127.78Z"/>
<path d="M600.47 126.69L604.03 121.56L596.90 121.56Z"/>
<path d="M604.46 122.08L608.02 116.95L600.90 116.95Z"/>
<path d="M608.45 119.73L612.02 114.60L604.89 114.60Z"/>
<path d="M612.44 118.54L616.01 113.41L608.88 113.41Z"/>
<path d="M616.44 117.85L620.00 112.72L612.87 112.72Z"/>
<path d="M620.43 117.40L623.99 112.27L616.86 112.27Z"/>
<path d="M624.42 117.31L627.98 112.18L620.86 112.18Z"/>
<path d="M628.41 117.60L631.98 112.47L624.85 112.47Z"/>
<path d="M632.40 117.60L635.97 112.47L628.84 112.47Z"/>
<path d="M636.40 117.09L639.96 111.96L632.83 111.96Z"/>
<path d="M640.39 116.69L643.95 111.56L636.82 111.56Z"/>
<path d="M644.38 116.76L647.94 111.63L640.82 111.63Z"/>
<path d="M648.37 116.97L651.94 111.84L644.81 111.84Z"/>
<path d="M652.36 117.10L655.93 111.97L648.80 111.97Z"/>
<path d="M656.36 117.19L659.92 112.06L652.79 112.06Z"/>
<path d="M660.35 117.25L663.91 112.12L656.78 112.12Z"/>
<path d="M664.34 117.28L667.90 112.15L660.78 112.15Z"/>
</g>
<rect x="37.3" y="6.85" width="79.80" height="50.05" fill="#fff" stroke="#000" stroke-width="1.4"/>
<line x1="38" y1="13" x2="62" y2="13" stroke="#000" stroke-width="1.3"/>
<g fill="#000"><rect x="47.55" y="10.50" width="5.50" height="5.00" rx="2.06" ry="1.88"/></g>
<line x1="38" y1="25.4" x2="62" y2="25.4" stroke="#f00" stroke-width="1.3"/>
<g fill="#f00"><path d="M50.30 22.09L53.49 27.60L47.11 27.60Z"/></g>
<line x1="38" y1="37.9" x2="62" y2="37.9" stroke="#00f" stroke-width="1.3"/>
<g fill="#00f"><path d="M50.30 34.42L53.49 37.90L50.30 41.38L47.11 37.90Z"/></g>
<line x1="38" y1="50.2" x2="62" y2="50.2" stroke="#0f0" stroke-width="1.3"/>
<g fill="#0f0"><path d="M50.30 53.51L53.49 48.00L47.11 48.00Z"/></g>
<text transform="translate(67.55,17.40) scale(1.198,1.000)" font-size="10.5" font-weight="bold">50</text>
<text transform="translate(85.22,17.40) scale(0.881,1.000)" font-size="10.5" font-weight="bold">k</text>
<text transform="translate(97.80,17.40) scale(0.829,1.000)" font-size="10.5" font-weight="bold">Hz</text>
<text transform="translate(67.46,28.60) scale(1.179,1.000)" font-size="10.5" font-weight="bold">100</text>
<text transform="translate(90.98,28.60) scale(1.043,1.000)" font-size="10.5" font-weight="bold">k</text>
<text transform="translate(102.28,28.60) scale(0.974,1.000)" font-size="10.5" font-weight="bold">Hz</text>
<text transform="translate(67.56,41.40) scale(1.165,1.000)" font-size="10.5" font-weight="bold">500</text>
<text transform="translate(90.98,41.40) scale(1.043,1.000)" font-size="10.5" font-weight="bold">k</text>
<text transform="translate(102.28,41.40) scale(0.974,1.000)" font-size="10.5" font-weight="bold">Hz</text>
<text transform="translate(67.56,53.50) scale(1.061,1.000)" font-size="10.5" font-weight="bold">1</text>
<text transform="translate(80.46,53.50) scale(0.520,1.000)" font-size="10.5" font-weight="bold" stroke="#000" stroke-width="0.9">M</text>
<text transform="translate(91.58,53.50) scale(0.934,1.000)" font-size="10.5" font-weight="bold">Hz</text>
<rect x="387.9" y="5.8" width="72.70" height="45.95" fill="#fff" stroke="#000" stroke-width="1.4"/>
<line x1="387.7" y1="11.3" x2="409" y2="11.3" stroke="#000" stroke-width="1.3"/>
<g fill="#000"><rect x="397.27" y="9.00" width="5.06" height="4.60" rx="1.90" ry="1.72"/></g>
<line x1="387.7" y1="22.8" x2="409" y2="22.8" stroke="#f00" stroke-width="1.3"/>
<g fill="#f00"><path d="M399.80 19.84L402.66 24.78L396.94 24.78Z"/></g>
<line x1="387.7" y1="34.4" x2="409" y2="34.4" stroke="#00f" stroke-width="1.3"/>
<g fill="#00f"><path d="M399.80 31.28L402.66 34.40L399.80 37.52L396.94 34.40Z"/></g>
<line x1="387.7" y1="45.9" x2="409" y2="45.9" stroke="#0f0" stroke-width="1.3"/>
<g fill="#0f0"><path d="M399.80 48.86L402.66 43.92L396.94 43.92Z"/></g>
<text transform="translate(416.54,14.60) scale(1.085,1.000)" font-size="9.5" font-weight="bold">50</text>
<text transform="translate(431.64,14.60) scale(0.894,1.000)" font-size="9.5" font-weight="bold">k</text>
<text transform="translate(442.81,14.60) scale(0.837,1.000)" font-size="9.5" font-weight="bold">Hz</text>
<text transform="translate(416.12,25.40) scale(1.097,1.000)" font-size="9.5" font-weight="bold">100</text>
<text transform="translate(437.82,25.40) scale(0.974,1.000)" font-size="9.5" font-weight="bold">k</text>
<text transform="translate(447.29,25.40) scale(0.988,1.000)" font-size="9.5" font-weight="bold">Hz</text>
<text transform="translate(416.54,37.40) scale(1.066,1.000)" font-size="9.5" font-weight="bold">500</text>
<text transform="translate(437.82,37.40) scale(0.974,1.000)" font-size="9.5" font-weight="bold">k</text>
<text transform="translate(447.29,37.40) scale(0.988,1.000)" font-size="9.5" font-weight="bold">Hz</text>
<text transform="translate(416.84,48.50) scale(0.801,1.000)" font-size="9.5" font-weight="bold">1</text>
<text transform="translate(426.35,48.50) scale(0.621,1.000)" font-size="9.5" font-weight="bold" stroke="#000" stroke-width="0.9">M</text>
<text transform="translate(437.91,48.50) scale(0.872,1.000)" font-size="9.5" font-weight="bold">Hz</text>
<line x1="30.3" y1="4.2" x2="340.2" y2="4.2" stroke="#000" stroke-width="1.4"/>
<line x1="34.75" y1="3.5" x2="34.75" y2="222.8" stroke="#000" stroke-width="1.6"/>
<line x1="32.9" y1="218.4" x2="340.2" y2="218.4" stroke="#000" stroke-width="1.25"/>
<line x1="339.5" y1="3.5" x2="339.5" y2="219" stroke="#000" stroke-width="1.5"/>
<line x1="381.6" y1="3.0" x2="685" y2="3.0" stroke="#000" stroke-width="1.5"/>
<line x1="384.9" y1="2.3" x2="384.9" y2="221.6" stroke="#000" stroke-width="1.5"/>
<line x1="383.5" y1="218.2" x2="685" y2="218.2" stroke="#000" stroke-width="1.2"/>
<line x1="684.3" y1="2.3" x2="684.3" y2="220.5" stroke="#000" stroke-width="1.4"/>
<path d="M30.60 198.94H34.8M30.60 160.01H34.8M30.60 121.08H34.8M30.60 82.15H34.8M30.60 43.23H34.8M30.60 4.30H34.8M32.90 179.77H34.8M32.90 140.85H34.8M32.90 101.92H34.8M32.90 62.99H34.8M32.90 24.06H34.8M34.80 218.4V221.90M75.43 218.4V221.90M116.05 218.4V221.90M156.68 218.4V221.90M197.31 218.4V221.90M237.93 218.4V221.90M278.56 218.4V221.90M319.19 218.4V221.90M55.11 218.4V220.60M95.74 218.4V220.60M136.37 218.4V220.60M176.99 218.4V220.60M217.62 218.4V220.60M258.25 218.4V220.60M298.87 218.4V220.60M381.40 218.00H384.9M381.40 164.28H384.9M381.40 110.55H384.9M381.40 56.82H384.9M381.40 3.10H384.9M382.90 191.14H384.9M382.90 137.41H384.9M382.90 83.69H384.9M382.90 29.96H384.9M384.90 218.0V221.50M424.82 218.0V221.50M464.74 218.0V221.50M504.66 218.0V221.50M544.58 218.0V221.50M584.50 218.0V221.50M624.42 218.0V221.50M664.34 218.0V221.50M404.86 218.0V220.00M444.78 218.0V220.00M484.70 218.0V220.00M524.62 218.0V220.00M564.54 218.0V220.00M604.46 218.0V220.00M644.38 218.0V220.00" stroke="#000" stroke-width="1.4" fill="none"/>
<text transform="translate(20.71,202.54) scale(1.180,1)" font-size="10.6" font-weight="bold">6</text>
<text transform="translate(20.76,163.61) scale(1.180,1)" font-size="10.6" font-weight="bold">8</text>
<text transform="translate(14.57,124.68) scale(1.180,1)" font-size="10.6" font-weight="bold">10</text>
<text transform="translate(14.63,85.75) scale(1.180,1)" font-size="10.6" font-weight="bold">12</text>
<text transform="translate(14.32,46.83) scale(1.180,1)" font-size="10.6" font-weight="bold">14</text>
<text transform="translate(14.46,7.90) scale(1.180,1)" font-size="10.6" font-weight="bold">16</text>
<text transform="translate(31.67,233.90) scale(1.180,1)" font-size="10.6" font-weight="bold">0</text>
<text transform="translate(65.78,233.90) scale(1.180,1)" font-size="10.6" font-weight="bold">100</text>
<text transform="translate(106.65,233.90) scale(1.180,1)" font-size="10.6" font-weight="bold">200</text>
<text transform="translate(147.30,233.90) scale(1.180,1)" font-size="10.6" font-weight="bold">300</text>
<text transform="translate(188.08,233.90) scale(1.180,1)" font-size="10.6" font-weight="bold">400</text>
<text transform="translate(228.54,233.90) scale(1.180,1)" font-size="10.6" font-weight="bold">500</text>
<text transform="translate(269.20,233.90) scale(1.180,1)" font-size="10.6" font-weight="bold">600</text>
<text transform="translate(309.69,233.90) scale(1.180,1)" font-size="10.6" font-weight="bold">700</text>
<text transform="translate(362.39,221.70) scale(1.040,1)" font-size="10.4" font-weight="bold">0. 0</text>
<text transform="translate(362.54,167.97) scale(1.040,1)" font-size="10.4" font-weight="bold">0. 1</text>
<text transform="translate(362.44,114.25) scale(1.040,1)" font-size="10.4" font-weight="bold">0. 2</text>
<text transform="translate(362.35,60.52) scale(1.040,1)" font-size="10.4" font-weight="bold">0. 3</text>
<text transform="translate(362.18,6.80) scale(1.040,1)" font-size="10.4" font-weight="bold">0. 4</text>
<text transform="translate(382.04,231.90) scale(1.100,1)" font-size="10.4" font-weight="bold">0</text>
<text transform="translate(416.00,231.90) scale(1.100,1)" font-size="10.4" font-weight="bold">100</text>
<text transform="translate(456.14,231.90) scale(1.100,1)" font-size="10.4" font-weight="bold">200</text>
<text transform="translate(496.08,231.90) scale(1.100,1)" font-size="10.4" font-weight="bold">300</text>
<text transform="translate(536.14,231.90) scale(1.100,1)" font-size="10.4" font-weight="bold">400</text>
<text transform="translate(575.91,231.90) scale(1.100,1)" font-size="10.4" font-weight="bold">500</text>
<text transform="translate(615.86,231.90) scale(1.100,1)" font-size="10.4" font-weight="bold">600</text>
<text transform="translate(655.65,231.90) scale(1.100,1)" font-size="10.4" font-weight="bold">700</text>
<text transform="translate(163.18,244.70) scale(1.053,1.120)" font-size="10.6" font-weight="bold">Temp(°C)</text>
<text transform="translate(512.54,242.50) scale(0.702,1.080)" font-size="10.3" font-weight="bold">T</text>
<text transform="translate(519.23,242.50) scale(0.900,1.000)" font-size="10.3" font-weight="bold">emp</text>
<text transform="translate(538.81,242.50) scale(0.971,1.100)" font-size="10.3" font-weight="bold">(°C)</text>
<text transform="translate(11.71,116.16) rotate(-90) scale(0.888,1)" font-size="19.0" font-weight="bold">ε</text>
<path d="M0 102.9L1.5 103.2L5 105.6L5 106.8L0 106.9Z" fill="#111"/>
<text transform="translate(360.86,126.17) rotate(-90) scale(0.979,1)" font-size="14.0" font-weight="bold">ε</text>
<path d="M349.6 110.0L355.2 112.1L355.2 112.9L349.6 112.1Z M349.6 113.6L355.2 115.7L355.2 116.5L349.6 115.7Z" fill="#111"/>
<text transform="translate(100.22,286.60) scale(0.998,1.100)" font-size="17.7">(1) Dielectric constant</text>
<text transform="translate(452.82,286.60) scale(0.997,1.100)" font-size="17.7">(2) Dielectric Losses</text>
</svg>
</body></html>
